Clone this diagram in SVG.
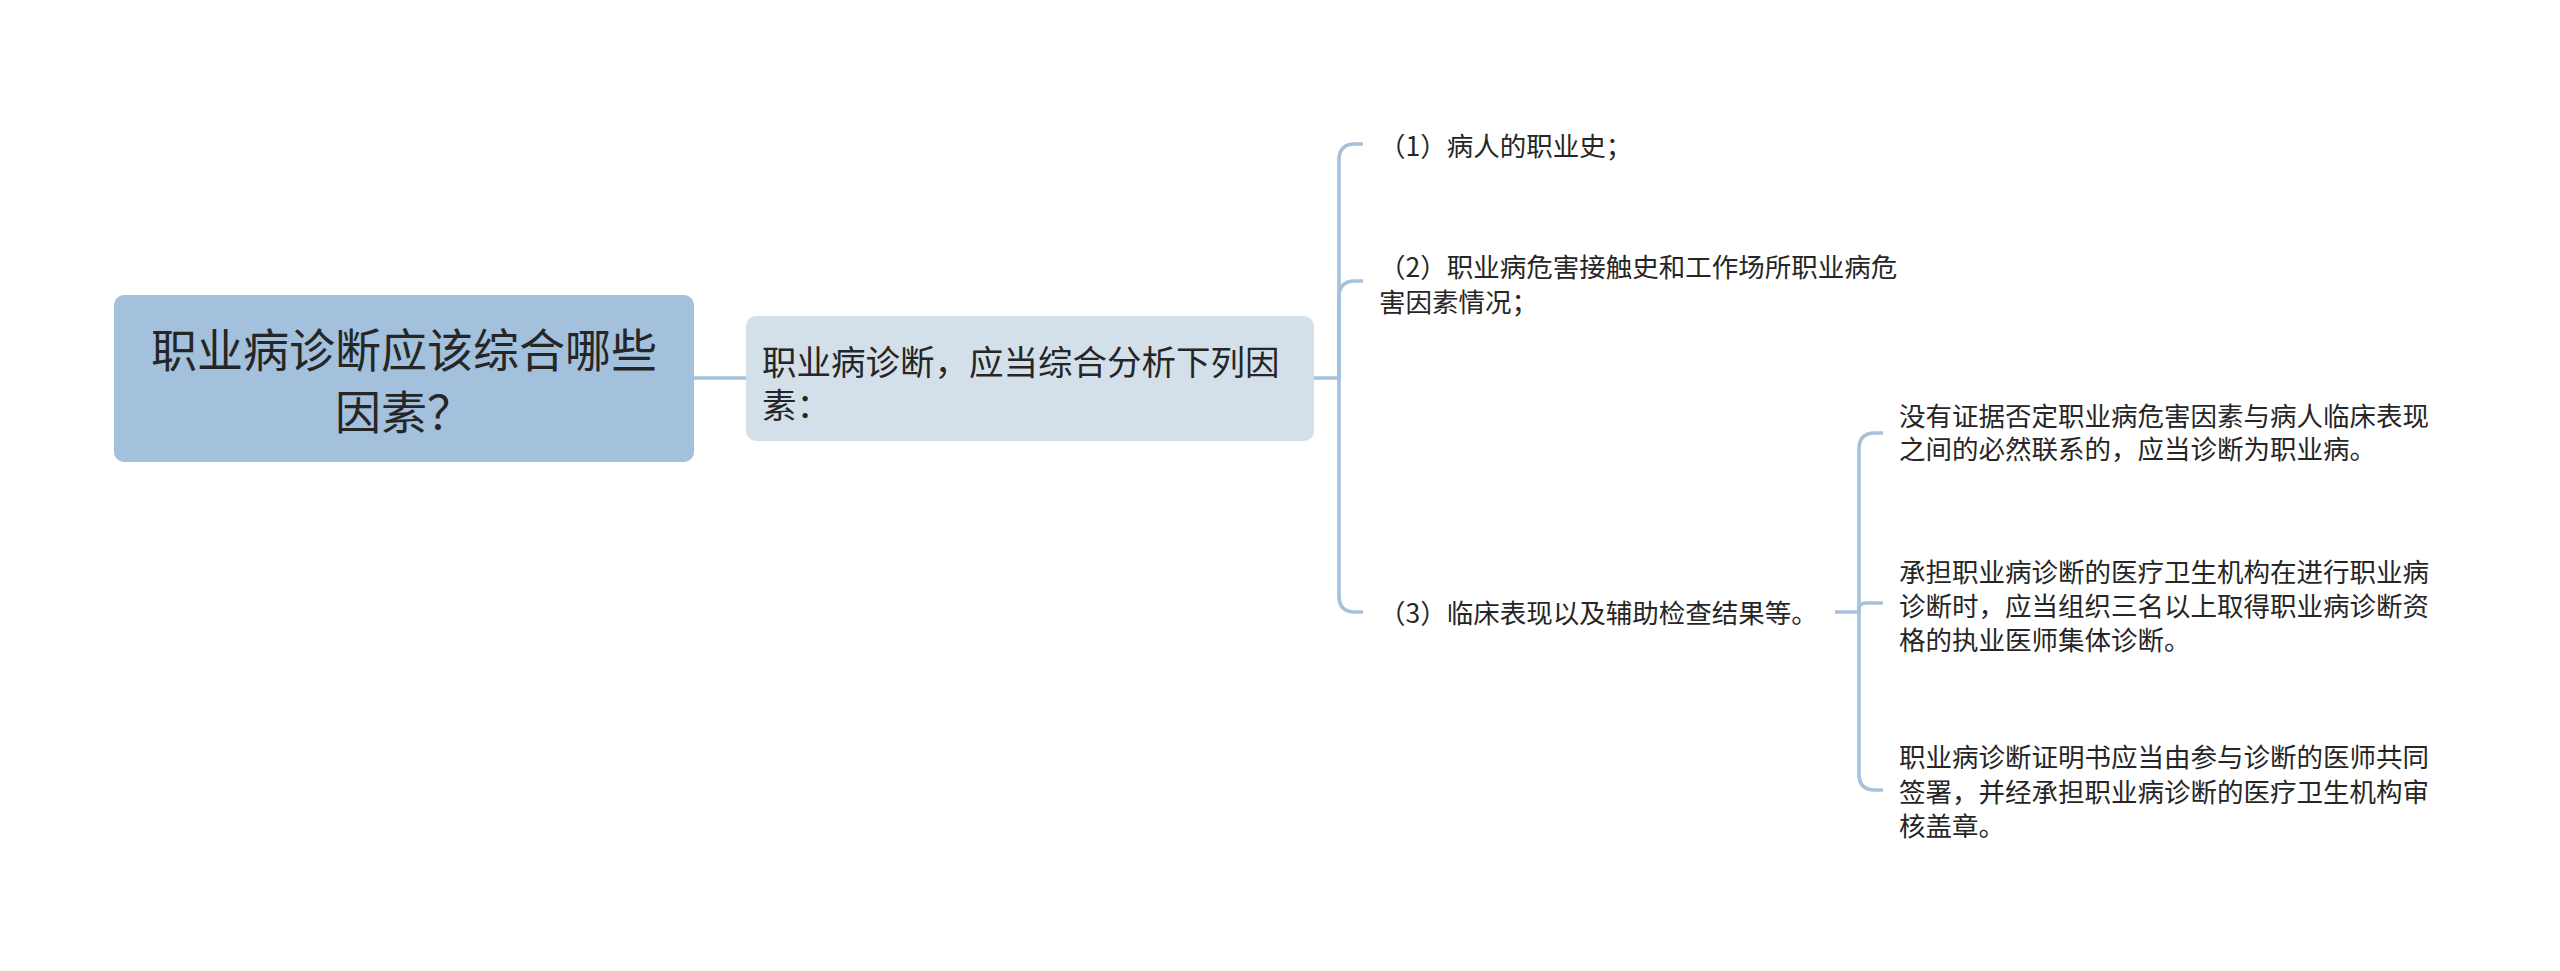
<svg xmlns="http://www.w3.org/2000/svg" width="2560" height="971" viewBox="0 0 2560 971">
<style>
.t{font-family:"Noto Sans CJK SC","Noto Sans",sans-serif;fill:#262626}
.root{font-size:46px}
.sub{font-size:34.5px}
.leaf{font-size:26.5px}
.ln{fill:none;stroke:#a6c1da;stroke-width:3.6;stroke-linecap:butt}
</style>
<rect width="2560" height="971" fill="#ffffff"/>
<g id="connectors">
<path class="ln" d="M694 378 H746"/>
<path class="ln" d="M1314 378 H1339 V160 Q1339 144 1355 144 H1363"/>
<path class="ln" d="M1339 378 V297 Q1339 281 1355 281 H1363"/>
<path class="ln" d="M1339 378 V596 Q1339 612 1355 612 H1363"/>
<path class="ln" d="M1835 612 H1859 V449 Q1859 433 1875 433 H1883"/>
<path class="ln" d="M1859 612 V609 Q1859 603 1867 603 H1883"/>
<path class="ln" d="M1859 612 V774 Q1859 790 1875 790 H1883"/>
</g>
<g id="root">
<rect x="114" y="295" width="580" height="167" rx="10" fill="#a3c0dc"/>
<text class="t root" x="404" y="367" text-anchor="middle">职业病诊断应该综合哪些</text>
<text class="t root" x="404" y="429" text-anchor="middle">因素？</text>
</g>
<g id="n-main">
<rect x="746" y="316" width="568" height="125" rx="10" fill="#d4e0e9"/>
<text class="t sub" x="762" y="375">职业病诊断，应当综合分析下列因</text>
<text class="t sub" x="762" y="418">素：</text>
</g>
<g id="n1">
<text class="t leaf" x="1379" y="156">（1）病人的职业史；</text>
</g>
<g id="n2">
<text class="t leaf" x="1379" y="277">（2）职业病危害接触史和工作场所职业病危</text>
<text class="t leaf" x="1379" y="312">害因素情况；</text>
</g>
<g id="n3">
<text class="t leaf" x="1379" y="623">（3）临床表现以及辅助检查结果等。</text>
</g>
<g id="n3-1">
<text class="t leaf" x="1899" y="426">没有证据否定职业病危害因素与病人临床表现</text>
<text class="t leaf" x="1899" y="459">之间的必然联系的，应当诊断为职业病。</text>
</g>
<g id="n3-2">
<text class="t leaf" x="1899" y="582">承担职业病诊断的医疗卫生机构在进行职业病</text>
<text class="t leaf" x="1899" y="616">诊断时，应当组织三名以上取得职业病诊断资</text>
<text class="t leaf" x="1899" y="650">格的执业医师集体诊断。</text>
</g>
<g id="n3-3">
<text class="t leaf" x="1899" y="767">职业病诊断证明书应当由参与诊断的医师共同</text>
<text class="t leaf" x="1899" y="802">签署，并经承担职业病诊断的医疗卫生机构审</text>
<text class="t leaf" x="1899" y="836">核盖章。</text>
</g>
</svg>
